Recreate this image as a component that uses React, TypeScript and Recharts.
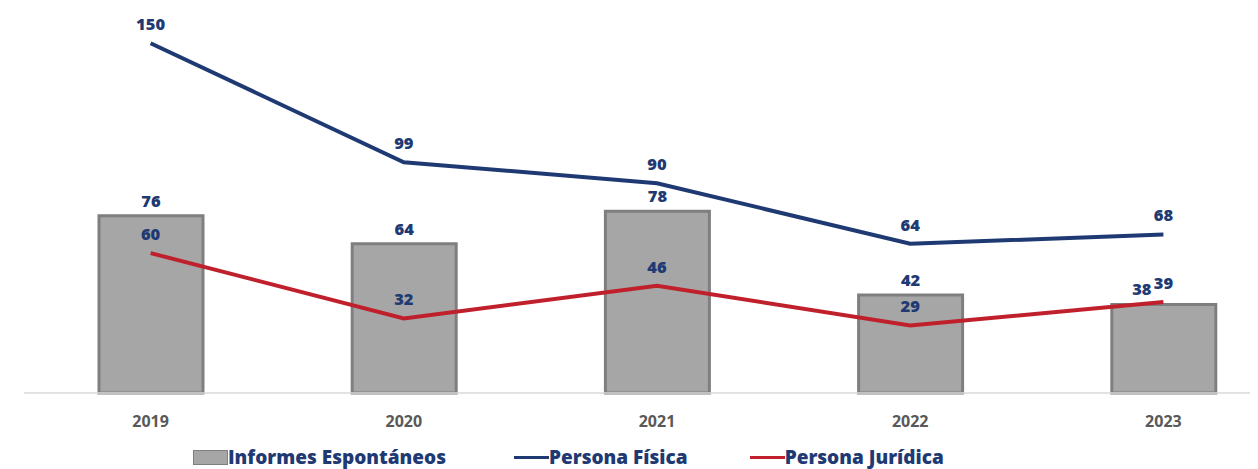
import React from 'react'
import { ComposedChart, Bar, Line, XAxis, YAxis, Legend, LabelList } from 'recharts'

const years = ['2019', '2020', '2021', '2022', '2023']
const informes = [76, 64, 78, 42, 38]
const personaFisica = [150, 99, 90, 64, 68]
const personaJuridica = [60, 32, 46, 29, 39]

const NAVY = '#1F3A73'
const RED = '#C0202B'
const BAR_FILL = '#A6A6A6'
const BAR_STROKE = '#7F7F7F'
const FONT = '"Open Sans", "Noto Sans", sans-serif'

const data = years.map((y, i) => ({
  year: y,
  informes: informes[i],
  fisica: personaFisica[i],
  juridica: personaJuridica[i],
}))

const labelStyle = { fill: NAVY, fontSize: 16.5, fontWeight: 800, fontFamily: FONT }

// last bar label sits left of the point label in the original
const barLabel = (props: any) => {
  const { x, y, width, value, index } = props
  const dx = index === informes.length - 1 ? -22 : 0
  return (
    <text x={x + width / 2 + dx} y={y - 9} textAnchor="middle" {...labelStyle}>
      {value}
    </text>
  )
}

const lineLabel = (props: any) => {
  const { x, y, value } = props
  return (
    <text x={x} y={y - 13} textAnchor="middle" {...labelStyle}>
      {value}
    </text>
  )
}

function LegendContent() {
  const text = { color: NAVY, fontSize: 19, fontWeight: 800, fontFamily: FONT, lineHeight: '20px' }
  return (
    <div style={{ display: 'flex', alignItems: 'center', height: 36, paddingTop: 12, boxSizing: 'border-box' }}>
      <div style={{ display: 'flex', alignItems: 'center' }}>
        <span style={{ width: 33, height: 13, background: BAR_FILL, border: `1px solid ${BAR_STROKE}`, display: 'inline-block' }} />
        <span style={text}>Informes Espontáneos</span>
      </div>
      <div style={{ display: 'flex', alignItems: 'center', marginLeft: 68 }}>
        <span style={{ width: 35, height: 3, background: NAVY, display: 'inline-block' }} />
        <span style={text}>Persona Física</span>
      </div>
      <div style={{ display: 'flex', alignItems: 'center', marginLeft: 62 }}>
        <span style={{ width: 35, height: 3, background: RED, display: 'inline-block' }} />
        <span style={text}>Persona Jurídica</span>
      </div>
    </div>
  )
}

export default function App() {
  return (
    <div style={{ width: 1250, height: 461, overflow: 'hidden', position: 'relative' }}>
      <ComposedChart width={1282} height={461} data={data} margin={{ top: 12, right: 0, bottom: 0, left: 16 }}>
        <XAxis
          dataKey="year"
          axisLine={{ stroke: '#D9D9D9', strokeWidth: 1.5 }}
          tickLine={false}
          tickMargin={17}
          height={40}
          tick={{ fill: '#595959', fontSize: 16, fontWeight: 700, fontFamily: FONT }}
        />
        <YAxis hide domain={[0, 160]} />
        <Legend
          verticalAlign="bottom"
          align="left"
          content={<LegendContent />}
          wrapperStyle={{ left: 185, bottom: 0, width: 'auto', height: 36 }}
        />
        <Bar dataKey="informes" name="Informes Espontáneos" fill={BAR_FILL} stroke={BAR_STROKE} strokeWidth={3} barSize={104} isAnimationActive={false}>
          <LabelList dataKey="informes" content={barLabel} />
        </Bar>
        <Line dataKey="fisica" name="Persona Física" stroke={NAVY} strokeWidth={4} dot={false} type="linear" isAnimationActive={false}>
          <LabelList dataKey="fisica" content={lineLabel} />
        </Line>
        <Line dataKey="juridica" name="Persona Jurídica" stroke={RED} strokeWidth={4} dot={false} type="linear" isAnimationActive={false}>
          <LabelList dataKey="juridica" content={lineLabel} />
        </Line>
      </ComposedChart>
    </div>
  )
}
